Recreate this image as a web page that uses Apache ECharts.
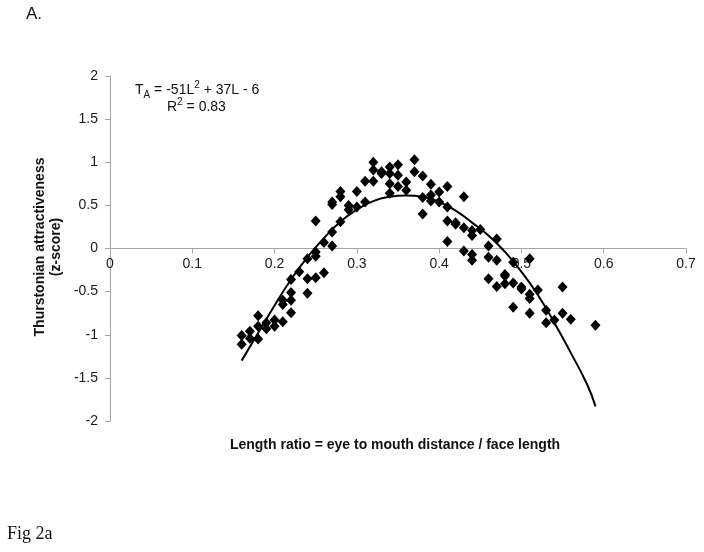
<!DOCTYPE html>
<html>
<head>
<meta charset="utf-8">
<script src="https://cdn.jsdelivr.net/npm/echarts@6/dist/echarts.min.js"></script>
<style>
html,body{margin:0;padding:0;background:#fff;}
#c{width:704px;height:552px;}
</style>
</head>
<body>
<div id="c"></div>
<script>
// Scatter data: length ratio (x) and Thurstonian attractiveness z-score (y)
var ratioX = [
  0.16,0.16,0.17,0.17,0.18,0.18,0.18,0.19,0.19,0.20,0.20,
  0.21,0.21,0.21,0.22,0.22,0.22,0.22,0.23,0.24,0.24,0.24,
  0.25,0.25,0.25,0.25,0.26,0.26,0.27,0.27,0.27,0.27,0.28,0.28,0.28,
  0.29,0.29,0.30,0.30,0.31,0.31,0.32,0.32,0.32,0.33,0.33,
  0.34,0.34,0.34,0.34,0.35,0.35,0.35,0.36,0.36,0.37,0.37,
  0.38,0.38,0.38,0.39,0.39,0.39,0.40,0.40,0.41,0.41,0.41,0.41,
  0.42,0.42,0.43,0.43,0.43,0.44,0.44,0.44,0.44,0.45,
  0.46,0.46,0.46,0.47,0.47,0.47,0.48,0.48,0.48,0.49,0.49,0.49,
  0.50,0.50,0.51,0.51,0.51,0.51,0.52,0.53,0.53,0.54,0.55,0.55,0.56,0.59
];
var zScore = [
  -1.01,-1.11,-0.96,-1.04,-0.78,-0.90,-1.05,-0.86,-0.93,-0.83,-0.90,
  -0.60,-0.65,-0.85,-0.36,-0.51,-0.60,-0.745,-0.27,-0.12,-0.35,-0.52,
  0.32,-0.04,-0.09,-0.34,0.07,-0.28,0.19,0.03,0.54,0.51,0.66,0.60,0.31,
  0.50,0.45,0.66,0.48,0.78,0.54,1.00,0.91,0.78,0.89,0.87,
  0.945,0.87,0.75,0.64,0.97,0.85,0.72,0.77,0.675,1.03,0.89,
  0.84,0.59,0.40,0.745,0.62,0.55,0.656,0.54,0.72,0.48,0.32,0.08,
  0.30,0.28,0.60,0.24,-0.03,0.21,0.15,-0.07,-0.135,0.22,
  0.03,-0.10,-0.35,0.11,-0.135,-0.44,-0.30,-0.32,-0.41,-0.16,-0.40,-0.68,
  -0.445,-0.47,-0.12,-0.53,-0.58,-0.75,-0.48,-0.715,-0.86,-0.83,-0.445,-0.75,-0.82,-0.89
];
// Fitted trend curve
var curveX = [0.16,0.18,0.20,0.22,0.24,0.26,0.28,0.30,0.32,0.34,0.36,0.38,0.40,0.42,0.44,0.46,0.48,0.50,0.52,0.54,0.56,0.58,0.59];
var curveY = [-1.30,-0.98,-0.66,-0.36,-0.10,0.12,0.31,0.45,0.55,0.60,0.615,0.60,0.54,0.44,0.30,0.15,-0.04,-0.27,-0.54,-0.86,-1.21,-1.58,-1.83];

var xTitle = 'Length ratio = eye to mouth distance / face length';
var yTitle = 'Thurstonian attractiveness\n(z-score)';

var scatterData = ratioX.map(function(x,i){return [x, zScore[i]];});
var curveData = curveX.map(function(x,i){return [x, curveY[i]];});

var gridTop = 76, gridBottom = 131, H = 552;
var gridH = H - gridTop - gridBottom;
var zeroOffset = -gridH / 2; // y = 0 sits half-way between -2 and 2

var chart = echarts.init(document.getElementById('c'));
var axisGray = '#a6a6a6';
var labelFont = {color:'#1a1a1a',fontFamily:'Liberation Sans, Arial',fontSize:14};
chart.setOption({
  animation:false,
  backgroundColor:'#fff',
  grid:{left:110,right:18,top:gridTop,bottom:gridBottom},
  xAxis:{
    type:'value',min:0,max:0.7,interval:0.1,position:'bottom',offset:zeroOffset,
    axisLine:{onZero:false,lineStyle:{color:axisGray,width:1}},
    axisTick:{show:true,inside:false,length:5,lineStyle:{color:axisGray}},
    axisLabel:Object.assign({margin:9},labelFont),
    splitLine:{show:false}
  },
  yAxis:{
    type:'value',min:-2,max:2,interval:0.5,
    axisLine:{show:true,onZero:false,lineStyle:{color:axisGray,width:1}},
    axisTick:{show:true,inside:false,length:5,lineStyle:{color:axisGray}},
    axisLabel:Object.assign({margin:12},labelFont),
    splitLine:{show:false}
  },
  series:[
    {type:'scatter',data:scatterData,symbol:'diamond',symbolSize:[10,11],
     itemStyle:{color:'#000',opacity:1},z:3},
    {type:'line',data:curveData,smooth:true,showSymbol:false,
     lineStyle:{color:'#000',width:2},z:2}
  ],
  graphic:[
    {type:'text',left:26,top:6,style:{text:'A.',font:'17px "Liberation Sans", Arial',fill:'#111'}},
    {type:'text',left:7,top:525,style:{text:'Fig 2a',font:'18px "Liberation Serif", "Times New Roman", serif',fill:'#111'}},
    {type:'text',left:135,top:80,style:{
      text:'{n|T}{s|A}{n| = -51L}{p|2}{n| + 37L - 6}',
      rich:{
        n:{font:'14px "Liberation Sans", Arial',fill:'#111',verticalAlign:'bottom',lineHeight:17},
        s:{font:'10px "Liberation Sans", Arial',fill:'#111',verticalAlign:'bottom',lineHeight:12,padding:[0,0,-3,0]},
        p:{font:'10px "Liberation Sans", Arial',fill:'#111',verticalAlign:'top',lineHeight:17}
      }}},
    {type:'text',left:167,top:97,style:{
      text:'{n|R}{p|2}{n| = 0.83}',
      rich:{
        n:{font:'14px "Liberation Sans", Arial',fill:'#111',verticalAlign:'bottom',lineHeight:17},
        p:{font:'10px "Liberation Sans", Arial',fill:'#111',verticalAlign:'top',lineHeight:17}
      }}},
    {type:'text',x:395,y:445,style:{text:xTitle,font:'bold 14px "Liberation Sans", Arial',fill:'#111',align:'center',verticalAlign:'middle'}},
    {type:'text',x:48,y:247,rotation:Math.PI/2,style:{text:yTitle,font:'bold 14px "Liberation Sans", Arial',fill:'#111',align:'center',verticalAlign:'middle',lineHeight:16}}
  ]
});
</script>
</body>
</html>
